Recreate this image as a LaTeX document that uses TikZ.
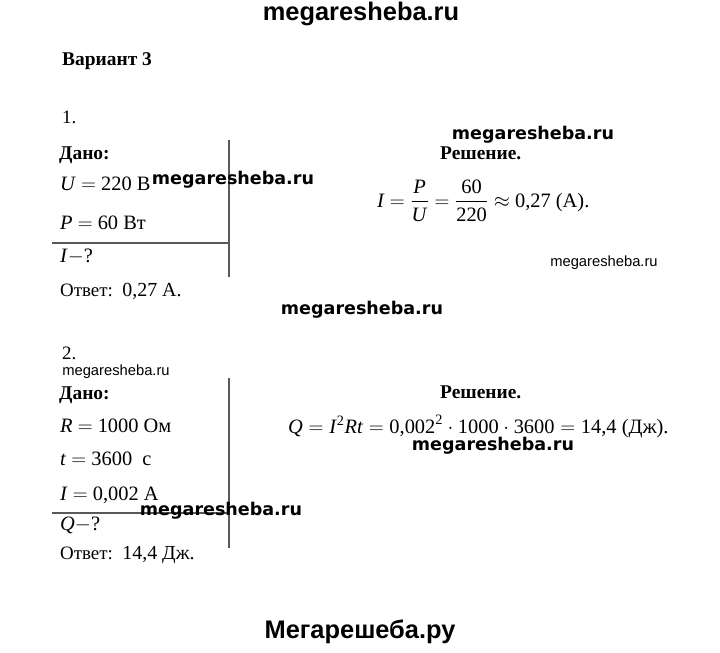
\documentclass[tikz,border=0pt]{standalone}
\usepackage{amsmath}
\usepackage{fontspec}
\setmainfont{Liberation Serif}
\newfontfamily\wmA{Liberation Sans}
\newfontfamily\wmB{DejaVu Sans}
\begin{document}
\begin{tikzpicture}[x=1bp,y=-1bp,
  txt/.style={anchor=base west,inner sep=0pt,font=\fontsize{19}{22}\selectfont},
  hd/.style={txt,font=\fontsize{19.5}{22}\selectfont\bfseries},
  mth/.style={anchor=base west,inner sep=0pt,font=\fontsize{20.5}{24}\selectfont},
  wmbig/.style={inner sep=0pt,font=\wmA\fontsize{25.5}{28}\selectfont\bfseries},
  wmbold/.style={inner sep=0pt,font=\wmB\fontsize{17.6}{20}\selectfont\bfseries},
  wmsmall/.style={inner sep=0pt,font=\wmA\fontsize{14.8}{17}\selectfont},
  rule/.style={draw=black!65,line width=1.2bp}]
\useasboundingbox (0,0) rectangle (720,653);
\fill[white] (0,0) rectangle (720,653);
% headers
\node[wmbig] (top) at (361,14) {megaresheba.ru};
\node[hd] (var) at (62,66) {Вариант 3};
% problem 1
\node[txt] (n1) at (62,124) {1.};
\node[hd] (dano1) at (59,159) {Дано:};
\node[mth] (u1) at (60,190) {\textit{U} $=$ 220 В};
\node[mth] (p1) at (60,229) {\textit{P} $=$ 60 Вт};
\node[mth] (q1) at (60,262) {\textit{I}$-$?};
\node[txt] (ans1) at (60,296) {Ответ:\ \ {\fontsize{20}{22}\selectfont 0,27 А.}};
\coordinate (h1a) at (52,243);
\coordinate (h1b) at (229,243);
\coordinate (v1a) at (229,140);
\coordinate (v1b) at (229,277);
\draw[rule] (h1a) -- (h1b);
\draw[rule] (v1a) -- (v1b);
\node[hd] (res1) at (440,159) {Решение.};
\node[mth] (f1) at (377,207) {\textit{I} $=\dfrac{\text{\textit{P}}}{\text{\textit{U}}}=\dfrac{\text{60}}{\text{220}}\approx$ 0,27 (А).};
% problem 2
\node[txt] (n2) at (62,359) {2.};
\node[hd] (dano2) at (59,399) {Дано:};
\node[mth] (r2) at (60,432) {\textit{R} $=$ 1000 Ом};
\node[mth] (t2) at (60,465) {\textit{t} $=$ 3600\ \ с};
\node[mth] (i2) at (60,500) {\textit{I} $=$ 0,002 А};
\node[mth] (q2) at (60,530) {\textit{Q}$-$?};
\node[txt] (ans2) at (60,559) {Ответ:\ \ {\fontsize{20}{22}\selectfont 14,4 Дж.}};
\coordinate (h2a) at (52,513);
\coordinate (h2b) at (229,513);
\coordinate (v2a) at (229,378);
\coordinate (v2b) at (229,548);
\draw[rule] (h2a) -- (h2b);
\draw[rule] (v2a) -- (v2b);
\node[hd] (res2) at (440,398) {Решение.};
\node[mth] (f2) at (288,433) {$\text{\textit{Q}}=\text{\textit{I}}^{\text{2}}\text{\textit{Rt}}=\text{0,002}^{\text{2}}\cdot\text{1000}\cdot\text{3600}=\text{14,4}$ (Дж).};
% watermarks
\node[wmbold] (w1) at (233,180) {megaresheba.ru};
\node[wmbold] (w2) at (362,310) {megaresheba.ru};
\node[wmbold] (w3) at (533,135) {megaresheba.ru};
\node[wmbold] (w4) at (221,511) {megaresheba.ru};
\node[wmbold] (w5) at (493,446) {megaresheba.ru};
\node[wmsmall] (s1) at (604,263) {megaresheba.ru};
\node[wmsmall] (s2) at (116,372) {megaresheba.ru};
\node[wmbig] (bot) at (360,632) {Мегарешеба.ру};
\end{tikzpicture}
\end{document}
